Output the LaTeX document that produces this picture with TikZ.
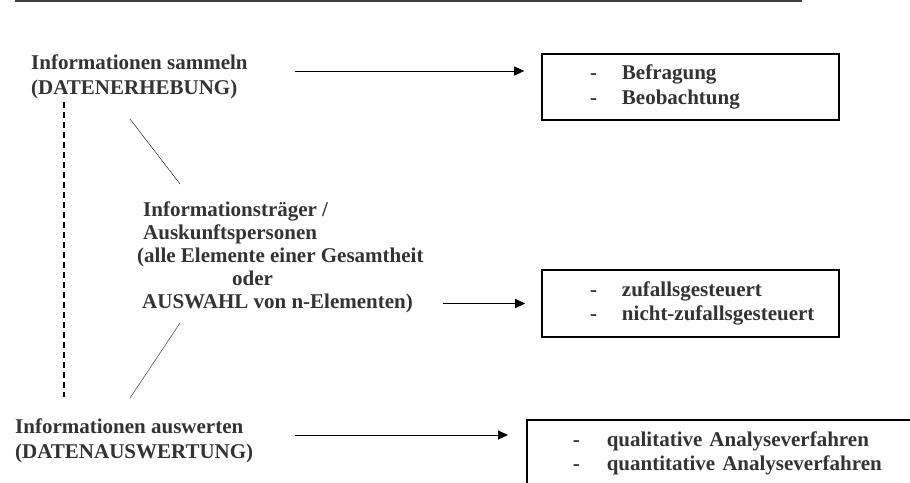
\documentclass[tikz,border=0pt]{standalone}
\usepackage{fontspec}
\setmainfont{Liberation Serif}
\usetikzlibrary{arrows.meta}
\definecolor{txtgray}{HTML}{333333}

\begin{document}
\begin{tikzpicture}[x=1pt,y=-1pt,-]
                \tikzstyle{heading}=[anchor=north west,inner sep=0pt,align=left,text=txtgray,font=\fontsize{21}{25}\selectfont\bfseries]
                \tikzstyle{listbox}=[draw=black,line width=1.6pt,align=left,text=txtgray,font=\fontsize{21}{24.5}\selectfont\bfseries]
                \tikzstyle{pointer}=[-{Triangle[length=10pt,width=9pt]},line width=1pt]
                \tikzstyle{dashline}=[line width=1.6pt,dash pattern=on 6pt off 4pt]
                \useasboundingbox (0,0) rectangle (910,482);
                \clip (0,0) rectangle (910,482);
                        \draw[line width=1.5pt,black!75] (15,1) -- (802,1);
                        \node[heading] (N-0) at (31,54.7){Informationen sammeln\\(DATENERHEBUNG)};
                        \node[heading,font=\fontsize{21}{23}\selectfont\bfseries] (N-1) at (137,201.5){\hspace*{6pt}Informationsträger /\\\hspace*{6pt}Auskunftspersonen\\(alle Elemente einer Gesamtheit\\\hspace*{95pt}oder\\\hspace*{5pt}AUSWAHL von n-Elementen)};
                        \node[heading] (N-2) at (15,418.7){Informationen auswerten\\(DATENAUSWERTUNG)};
                        \node[listbox,minimum height=66pt,inner xsep=24pt,text width=249pt] (B-0) at (690.5,87){\hspace*{24pt}\makebox[32pt][l]{-}Befragung\\\hspace*{24pt}\makebox[32pt][l]{-}Beobachtung};
                        \node[listbox,minimum height=67pt,inner xsep=24pt,text width=249pt] (B-1) at (690.5,303.5){\hspace*{24pt}\makebox[32pt][l]{-}zufallsgesteuert\\\hspace*{24pt}\makebox[32pt][l]{-}nicht-zufallsgesteuert};
                        \node[listbox,anchor=north west,inner xsep=46pt,inner ysep=11.5pt,text width=360pt] (B-2) at (526,419){\makebox[34pt][l]{-}qualitative Analyseverfahren\\\makebox[34pt][l]{-}quantitative Analyseverfahren};
                        \coordinate (S-0) at (295,71);
                        \coordinate (S-1) at (443,303.5);
                        \coordinate (S-2) at (295,435);
                        \coordinate (D-0) at (130,119);
                        \coordinate (D-1) at (180,184);
                        \coordinate (D-2) at (180,323);
                        \coordinate (D-3) at (130,398);
                        \coordinate (V-0) at (64,102);
                        \coordinate (V-1) at (64,397);

                    \foreach \from/\to/\gap in {0/0/17pt, 1/1/16pt, 2/2/18pt}
                        \draw[pointer,shorten >=\gap] (S-\from) -- (S-\from -| B-\to.west);
                    \draw (D-0) -- (D-1);
                    \draw (D-2) -- (D-3);
                    \draw[dashline] (V-0) -- (V-1);
            \end{tikzpicture}
\end{document}
